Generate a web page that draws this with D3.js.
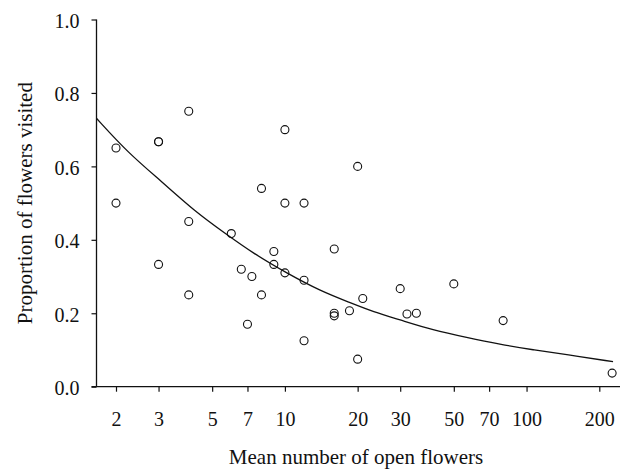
<!DOCTYPE html>
<html>
<head>
<meta charset="utf-8">
<script src="https://cdn.jsdelivr.net/npm/d3@7"></script>
<style>
  body { margin: 0; background: #fff; }
  svg text { font-family: 'Liberation Serif', 'Times New Roman', Times, 'DejaVu Serif', serif; fill: #111; }
</style>
</head>
<body>
<svg id="chart"></svg>
<script>
// observed points: mean open flowers vs proportion visited
const flowers = [2, 2, 3, 3, 3, 4, 4, 4, 6, 6.6, 7, 7.3, 8, 8, 9, 9, 10, 10, 10, 12, 12, 12,
  16, 16, 16, 18.5, 20, 20, 21, 30, 32, 35, 50, 80, 226];
const visited = [0.65, 0.5, 0.667, 0.667, 0.333, 0.75, 0.45, 0.25, 0.417, 0.32, 0.17, 0.30,
  0.54, 0.25, 0.368, 0.333, 0.7, 0.5, 0.31, 0.5, 0.29, 0.125, 0.375, 0.2, 0.193, 0.207,
  0.6, 0.075, 0.24, 0.267, 0.198, 0.2, 0.28, 0.18, 0.037];

// fitted curve
const fitX = [1.66, 2.25, 3.1, 4.25, 5.65, 7.4, 10.2, 14, 18.6, 23.2, 30, 41, 56.5, 77.6, 106.6, 146, 228];
const fitY = [0.731, 0.636, 0.558, 0.477, 0.418, 0.363, 0.309, 0.261, 0.229, 0.204, 0.182,
  0.154, 0.134, 0.1155, 0.100, 0.088, 0.068];

const xTicks = [2, 3, 5, 7, 10, 20, 30, 50, 70, 100, 200];
const yTicks = [0, 0.2, 0.4, 0.6, 0.8, 1.0];

const width = 626, height = 470;
const tickFont = 20, titleFont = 21;
const serif = "'Liberation Serif', 'Times New Roman', Times, 'DejaVu Serif', serif";

const svg = d3.select('#chart')
    .attr('width', width)
    .attr('height', height);

const xScale = d3.scaleLog()
    .domain([2, 200])
    .range([116, 599.3]);

const yScale = d3.scaleLinear()
    .domain([0, 1])
    .range([386.7, 19.5]);

const axisLeftX = 96.5;

// y axis
svg.append('g')
    .attr('transform', `translate(${axisLeftX},0)`)
    .call(d3.axisLeft(yScale)
      .tickValues(yTicks)
      .tickSize(5)
      .tickPadding(12)
      .tickFormat(d3.format('.1f')))
    .call(g => g.select('.domain').remove())
    .call(g => g.selectAll('.tick text').attr('dy', '0.4em'));

// x axis
svg.append('g')
    .attr('transform', `translate(0,${yScale(0)})`)
    .call(d3.axisBottom(xScale)
      .tickValues(xTicks)
      .tickSize(5)
      .tickPadding(20.5)
      .tickFormat(d3.format('d')))
    .call(g => g.select('.domain').remove());

svg.selectAll('g').attr('font-family', serif);

svg.selectAll('.tick line')
    .attr('stroke', '#111')
    .attr('stroke-width', 1.2);

svg.selectAll('.tick text')
    .attr('font-size', tickFont)
    .attr('fill', '#111');

// axis lines
svg.append('line')
    .attr('x1', axisLeftX).attr('x2', axisLeftX)
    .attr('y1', yScale(1)).attr('y2', yScale(0))
    .attr('stroke', '#111').attr('stroke-width', 1.3);

svg.append('line')
    .attr('x1', axisLeftX - 5).attr('x2', 620)
    .attr('y1', yScale(0)).attr('y2', yScale(0))
    .attr('stroke', '#111').attr('stroke-width', 1.3);

// fitted curve
const fit = fitX.map((x, i) => ({x, y: fitY[i]}));
const line = d3.line()
    .x(d => xScale(d.x))
    .y(d => yScale(d.y))
    .curve(d3.curveBasis);

svg.append('path')
    .datum(fit)
    .attr('d', line)
    .attr('fill', 'none')
    .attr('stroke', '#111')
    .attr('stroke-width', 1.3);

// points
const points = flowers.map((x, i) => ({x, y: visited[i]}));
svg.selectAll('.point')
    .data(points)
  .join('circle')
    .attr('class', 'point')
    .attr('cx', d => xScale(d.x))
    .attr('cy', d => yScale(d.y))
    .attr('r', 4)
    .attr('fill', 'none')
    .attr('stroke', '#111')
    .attr('stroke-width', 1.1);

// axis titles
svg.append('text')
    .attr('x', 356)
    .attr('y', 464)
    .attr('text-anchor', 'middle')
    .attr('font-family', serif)
    .attr('font-size', titleFont)
    .text('Mean number of open flowers');

svg.append('text')
    .attr('transform', `translate(32,${(yScale(0) + yScale(1)) / 2}) rotate(-90)`)
    .attr('text-anchor', 'middle')
    .attr('font-family', serif)
    .attr('font-size', titleFont)
    .text('Proportion of flowers visited');
</script>
</body>
</html>
